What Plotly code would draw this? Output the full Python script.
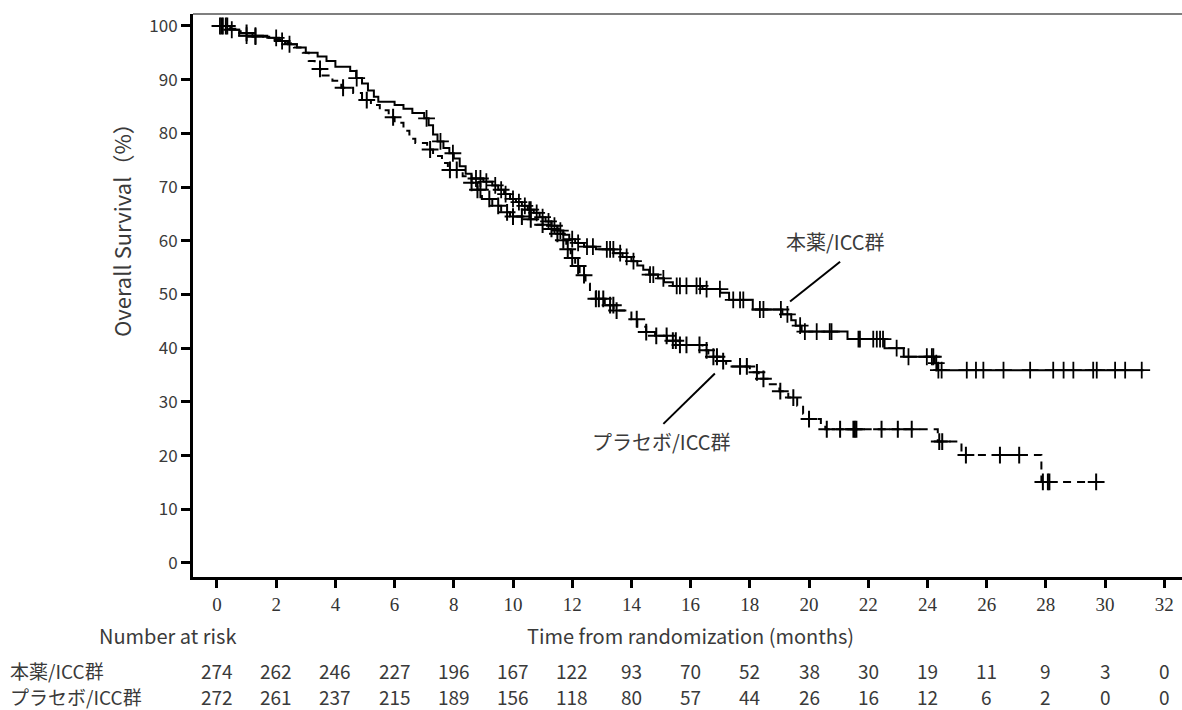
import numpy as np
import plotly.graph_objects as go

# ---------------- data ----------------
months_ticks = list(range(0, 34, 2))
risk_drug = [274, 262, 246, 227, 196, 167, 122, 93, 70, 52, 38, 30, 19, 11, 9, 3, 0]
risk_placebo = [272, 261, 237, 215, 189, 156, 118, 80, 57, 44, 26, 16, 12, 6, 2, 0, 0]

drug_event_t = [0.45, 0.75, 1.7, 2.1, 2.4, 2.7, 3.0, 3.4, 3.7, 4.0, 4.5, 4.7, 4.9, 5.1, 5.3, 5.45,
                6.0, 6.3, 6.6, 7.0, 7.15, 7.3, 7.45, 7.65, 7.85, 8.0, 8.2, 8.4, 8.6, 9.0, 9.3, 9.5,
                9.7, 9.9, 10.1, 10.3, 10.5, 10.7, 10.9, 11.1, 11.3, 11.5, 11.7, 11.9, 12.1, 12.4,
                12.8, 13.4, 13.7, 14.0, 14.2, 14.4, 14.6, 14.9, 15.1, 15.4, 16.4, 17.0, 17.3, 18.1,
                19.1, 19.4, 19.55, 19.75, 21.3, 22.55, 23.2, 24.25, 24.35]
drug_event_s = [99.3, 98.2, 97.8, 97.2, 96.6, 96.0, 95.0, 94.3, 93.5, 92.4, 91.6, 90.3, 89.3, 88.0,
                86.8, 85.9, 85.3, 84.6, 83.8, 82.8, 81.5, 79.8, 78.5, 77.3, 76.3, 75.3, 73.9, 72.5,
                71.6, 71.0, 70.3, 69.5, 68.7, 67.8, 67.2, 66.5, 65.8, 65.2, 64.4, 63.6, 62.8, 61.9,
                61.1, 60.3, 59.6, 58.9, 58.4, 57.7, 57.0, 56.2, 55.4, 54.6, 53.7, 53.0, 52.3, 51.6,
                51.0, 50.3, 49.0, 47.2, 46.3, 45.2, 44.2, 43.1, 41.7, 40.0, 38.4, 37.2, 35.9]
drug_end_t = 31.3
drug_censor_t = [0.1, 0.2, 0.35, 0.5, 1.0, 1.3, 2.0, 2.2, 2.45, 4.72, 7.08, 7.55, 7.97, 8.75, 8.9,
                 9.1, 9.4, 9.6, 9.75, 10.0, 10.2, 10.4, 10.55, 10.6, 10.8, 11.0, 11.2, 11.4, 11.6,
                 12.0, 12.2, 12.5, 12.7, 13.17, 13.28, 13.39, 13.62, 13.84, 14.07, 14.63, 14.74,
                 15.08, 15.53, 15.64, 15.86, 16.2, 16.32, 16.54, 16.99, 17.44, 17.67, 17.78, 18.34,
                 18.46, 19.05, 19.27, 19.7, 19.86, 20.26, 20.7, 20.76, 21.67, 21.72, 22.17, 22.29,
                 22.4, 22.5, 22.96, 23.36, 23.98, 24.15, 24.2, 24.3, 24.37, 24.48, 25.33, 25.64,
                 25.89, 26.57, 27.47, 28.25, 28.6, 28.93, 29.6, 29.72, 30.34, 30.68, 31.24]

plac_event_t = [0.4, 0.8, 1.2, 1.8, 2.3, 2.6, 2.9, 3.1, 3.3, 3.5, 3.9, 4.2, 4.6, 4.9, 5.2, 5.5, 5.8,
                6.0, 6.3, 6.5, 6.7, 7.1, 7.3, 7.6, 7.8, 8.3, 8.6, 8.8, 8.95, 9.3, 9.6, 9.9, 10.5,
                10.8, 11.1, 11.4, 11.65, 11.8, 11.95, 12.1, 12.25, 12.45, 12.6, 12.8, 13.1, 13.4,
                14.0, 14.2, 14.5, 14.8, 15.2, 15.6, 16.4, 16.6, 17.0, 17.2, 18.0, 18.3, 18.6, 19.0,
                19.3, 19.6, 19.8, 20.0, 20.4, 20.55, 24.35, 25.15, 27.85]
plac_event_s = [99.5, 98.7, 98.0, 97.5, 96.8, 96.0, 95.0, 93.5, 92.0, 90.8, 89.8, 88.5, 87.5, 86.2,
                85.3, 84.3, 83.0, 82.0, 80.5, 79.0, 78.2, 77.0, 75.8, 74.5, 73.2, 72.0, 70.8, 69.5,
                67.8, 66.5, 65.3, 64.5, 64.0, 63.0, 62.2, 61.3, 60.1, 58.4, 56.8, 55.3, 53.6, 52.0,
                50.6, 49.2, 48.0, 47.0, 45.4, 44.0, 43.0, 42.3, 41.4, 40.6, 39.6, 38.4, 37.6, 36.6,
                35.5, 34.3, 33.3, 32.0, 30.8, 29.3, 27.8, 26.8, 25.8, 24.9, 22.6, 20.1, 15.1]
plac_end_t = 29.7
plac_censor_t = [0.15, 0.3, 1.0, 1.3, 3.48, 4.26, 5.06, 5.95, 7.2, 7.87, 8.1, 8.6, 8.8, 8.9, 9.2,
                 9.5, 9.8, 10.0, 10.3, 10.6, 11.0, 11.3, 11.5, 11.7, 11.85, 12.0, 12.2, 12.4, 12.8,
                 12.9, 13.05, 13.28, 13.39, 13.5, 14.18, 14.5, 14.84, 15.19, 15.4, 15.5, 15.64,
                 15.86, 16.3, 16.54, 16.77, 16.89, 17.1, 17.67, 17.9, 18.24, 18.46, 19.03, 19.47,
                 20.0, 20.6, 21.05, 21.5, 21.55, 21.6, 22.45, 23.0, 23.47, 24.4, 24.5, 25.3, 26.45,
                 27.1, 27.9, 28.07, 28.12, 29.7]

drug_name = "本薬/ICC群"
plac_name = "プラセボ/ICC群"

# ---------------- helpers ----------------
def step_arrays(ev_t, ev_s, end_t):
    t = [0.0] + list(ev_t) + [end_t]
    s = [100.0] + list(ev_s) + [ev_s[-1]]
    return t, s

def censor_y(ev_t, ev_s, cens):
    tt = np.array([0.0] + list(ev_t))
    ss = np.array([100.0] + list(ev_s))
    idx = np.searchsorted(tt, np.array(cens), side="right") - 1
    return ss[idx]

CJK = "Noto Sans CJK JP"
GRAY = "#3a3a3a"

fig = go.Figure()

dt, ds = step_arrays(drug_event_t, drug_event_s, drug_end_t)
pt, ps = step_arrays(plac_event_t, plac_event_s, plac_end_t)

fig.add_trace(go.Scatter(x=dt, y=ds, mode="lines", line=dict(color="black", width=2, shape="hv"),
                         showlegend=False, hoverinfo="skip"))
fig.add_trace(go.Scatter(x=pt, y=ps, mode="lines",
                         line=dict(color="black", width=2, shape="hv", dash="8px,6px"),
                         showlegend=False, hoverinfo="skip"))
fig.add_trace(go.Scatter(x=drug_censor_t, y=censor_y(drug_event_t, drug_event_s, drug_censor_t),
                         mode="markers",
                         marker=dict(symbol="cross-thin-open", size=12, color="black",
                                     line=dict(color="black", width=1.8)),
                         showlegend=False))
fig.add_trace(go.Scatter(x=plac_censor_t, y=censor_y(plac_event_t, plac_event_s, plac_censor_t),
                         mode="markers",
                         marker=dict(symbol="cross-thin-open", size=12, color="black",
                                     line=dict(color="black", width=2)),
                         showlegend=False))

# group labels with leader lines
fig.add_annotation(x=20.9, y=59.8, xref="x", yref="y", text=drug_name, showarrow=False,
                   xanchor="center", yanchor="middle",
                   font=dict(family=CJK, size=20, color=GRAY))
fig.add_shape(type="line", xref="x", yref="y", x0=21.05, y0=56.1, x1=19.36, y1=48.7,
              line=dict(color="black", width=2))
fig.add_annotation(x=15.03, y=22.7, xref="x", yref="y", text=plac_name, showarrow=False,
                   xanchor="center", yanchor="middle",
                   font=dict(family=CJK, size=20, color=GRAY))
fig.add_shape(type="line", xref="x", yref="y", x0=16.82, y0=35.3, x1=15.08, y1=25.9,
              line=dict(color="black", width=2))

# top frame line
fig.add_shape(type="line", xref="paper", yref="paper", x0=0, x1=1, y0=1, y1=1,
              line=dict(color="#555555", width=1.5))

def py(ypx):
    return (577 - ypx) / 563.0

def px(xpx):
    return (xpx - 193) / 989.0

# y-axis title
fig.add_annotation(x=px(121), y=py(225), xref="paper", yref="paper", text="Overall Survival（%）",
                   textangle=-90, showarrow=False, xanchor="center", yanchor="middle",
                   font=dict(family=CJK, size=22, color=GRAY))

# number at risk table
TBL = 19
fig.add_annotation(x=px(97), y=py(635), xref="paper", yref="paper", text="Number at risk",
                   xanchor="left", yanchor="middle", showarrow=False,
                   font=dict(family=CJK, size=20, color=GRAY))
fig.add_annotation(x=16.0, y=py(635), xref="x", yref="paper", text="Time from randomization (months)",
                   xanchor="center", yanchor="middle", showarrow=False,
                   font=dict(family=CJK, size=20, color=GRAY))
fig.add_annotation(x=px(8), y=py(670), xref="paper", yref="paper", text=drug_name,
                   xanchor="left", yanchor="middle", showarrow=False,
                   font=dict(family=CJK, size=TBL, color=GRAY))
fig.add_annotation(x=px(8), y=py(696), xref="paper", yref="paper", text=plac_name,
                   xanchor="left", yanchor="middle", showarrow=False,
                   font=dict(family=CJK, size=TBL, color=GRAY))
for m, a, b in zip(months_ticks, risk_drug, risk_placebo):
    fig.add_annotation(x=m, y=py(670), xref="x", yref="paper", text=str(a), showarrow=False,
                       xanchor="center", yanchor="middle",
                       font=dict(family=CJK, size=TBL, color=GRAY))
    fig.add_annotation(x=m, y=py(696), xref="x", yref="paper", text=str(b), showarrow=False,
                       xanchor="center", yanchor="middle",
                       font=dict(family=CJK, size=TBL, color=GRAY))

fig.update_layout(
    width=1182, height=710,
    margin=dict(l=193, r=0, t=14, b=133),
    paper_bgcolor="white", plot_bgcolor="white",
    xaxis=dict(range=[-0.81, 32.6], tickmode="array", tickvals=months_ticks,
               ticktext=[str(v) for v in months_ticks],
               showgrid=False, zeroline=False, showline=True, linecolor="black", linewidth=3,
               ticks="outside", ticklen=8, tickwidth=3, tickcolor="black",
               tickfont=dict(family="Liberation Serif", size=19, color="#333333")),
    yaxis=dict(range=[-2.61, 102.23], tickmode="array", tickvals=list(range(0, 101, 10)),
               showgrid=False, zeroline=False, showline=True, linecolor="black", linewidth=3,
               ticks="outside", ticklen=9, tickwidth=3, tickcolor="black",
               tickfont=dict(family=CJK, size=17, color=GRAY)),
)

fig.write_html("out.html")
